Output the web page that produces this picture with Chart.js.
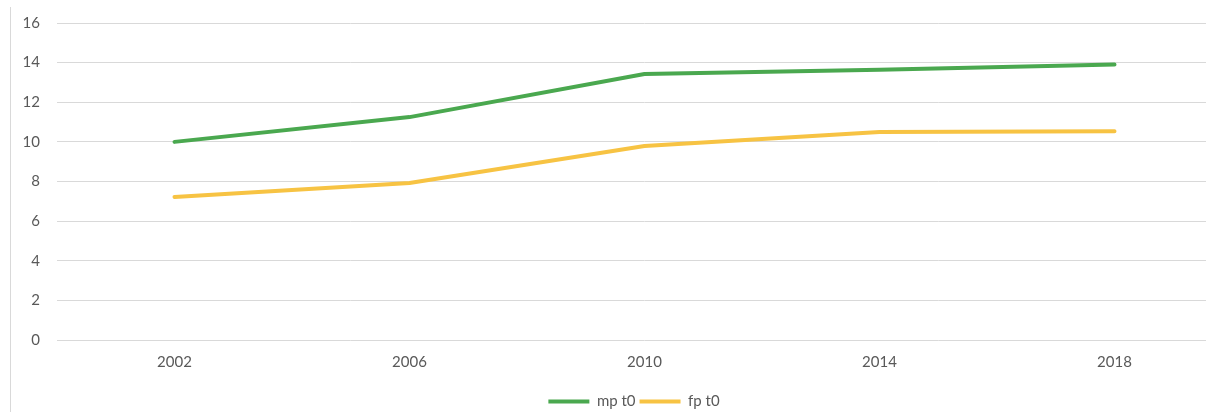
<!DOCTYPE html>
<html>
<head>
<meta charset="utf-8">
<script src="https://cdn.jsdelivr.net/npm/chart.js@4.4.1/dist/chart.umd.min.js"></script>
<style>
  html, body { margin: 0; padding: 0; background: #ffffff; overflow: hidden; width: 1206px; height: 412px; }
  #wrap { position: absolute; left: 0; top: 0; width: 1266px; height: 419px; }
  #frame { position: absolute; left: 10px; top: 7px; height: 405px; width: 0; border-left: 1px solid #d9d9d9; }
</style>
</head>
<body>
<div id="wrap"><canvas id="c" width="1266" height="419"></canvas></div>
<div id="frame"></div>
<script>
const categories = ['2002', '2006', '2010', '2014', '2018'];
const mpt0 = [10.0, 11.25, 13.43, 13.64, 13.9];
const fpt0 = [7.22, 7.92, 9.79, 10.5, 10.54];
const seriesNames = ['mp t0', 'fp t0'];
const yTicks = [0, 2, 4, 6, 8, 10, 12, 14, 16];

const GREEN = '#4aa84f';
const YELLOW = '#f7c343';
const TEXT = '#595959';
const GRID = '#d9d9d9';
const FONT = { family: 'Lato', size: 15 };

const legendShift = {
  id: 'legendShift',
  afterLayout(chart) {
    const lg = chart.legend;
    if (lg) { lg.left += 18; lg.right += 18; }
  }
};

new Chart(document.getElementById('c'), {
  type: 'line',
  data: {
    labels: categories,
    datasets: [
      { label: seriesNames[0], data: mpt0, borderColor: GREEN, backgroundColor: GREEN, borderWidth: 4, pointRadius: 0, tension: 0, borderCapStyle: 'round', borderJoinStyle: 'round' },
      { label: seriesNames[1], data: fpt0, borderColor: YELLOW, backgroundColor: YELLOW, borderWidth: 4, pointRadius: 0, tension: 0, borderCapStyle: 'round', borderJoinStyle: 'round' }
    ]
  },
  plugins: [legendShift],
  options: {
    responsive: false,
    animation: false,
    devicePixelRatio: 1,
    layout: { padding: { top: 23, right: 34, left: 0, bottom: 0 } },
    plugins: {
      tooltip: { enabled: false },
      legend: {
        position: 'bottom',
        align: 'center',
        labels: {
          font: FONT,
          color: TEXT,
          boxWidth: 41,
          boxHeight: 4,
          padding: 4,
          generateLabels: (chart) => {
            const items = Chart.defaults.plugins.legend.labels.generateLabels(chart);
            items.forEach(it => { it.fillStyle = it.strokeStyle; it.lineWidth = 0; });
            return items;
          }
        }
      }
    },
    scales: {
      x: {
        offset: true,
        grid: { display: false, drawTicks: false },
        border: { display: false },
        ticks: { font: FONT, color: TEXT, padding: 13, maxRotation: 0 },
        afterFit: (s) => { s.height = 50; s.paddingLeft = 0; s.paddingRight = 0; }
      },
      y: {
        min: 0,
        max: 16,
        afterBuildTicks: (s) => { s.ticks = yTicks.map(v => ({ value: v })); },
        grid: { color: GRID, lineWidth: 1, drawTicks: false },
        border: { display: false },
        ticks: { font: FONT, color: TEXT, padding: 17 },
        afterFit: (s) => { s.width = 57; s.paddingTop = 0; s.paddingBottom = 0; }
      }
    }
  }
});
</script>
</body>
</html>
